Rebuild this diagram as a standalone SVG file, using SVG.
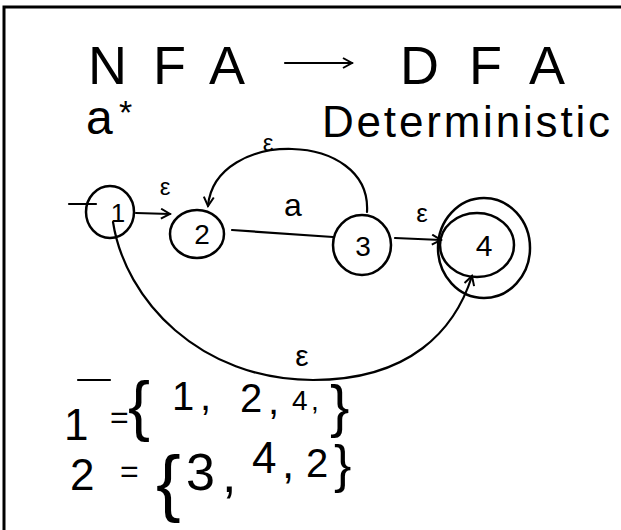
<svg xmlns="http://www.w3.org/2000/svg" width="621" height="530" viewBox="0 0 621 530">
<defs>
<style>
.t{font-family:"Liberation Sans","DejaVu Sans",sans-serif;fill:#000}
.n{fill:none;stroke:#000;stroke-width:2.5}
.e{fill:none;stroke:#000;stroke-width:2.2;stroke-linecap:round}
</style>
<marker id="ah" viewBox="0 0 12 12" refX="10" refY="6" markerWidth="12" markerHeight="12" markerUnits="userSpaceOnUse" orient="auto">
<polyline points="1,1 10,6 1,11" fill="none" stroke="#000" stroke-width="2"/>
</marker>
</defs>
<rect width="621" height="530" fill="#fff"/>
<path d="M4 530 V7 H621" fill="none" stroke="#000" stroke-width="3"/>
<g id="title">
<text class="t" x="88" y="84" font-size="54" textLength="157" lengthAdjust="spacing">NFA</text>
<line x1="285" y1="63" x2="352" y2="63" class="e" marker-end="url(#ah)"/>
<text class="t" x="400" y="84" font-size="54" textLength="165" lengthAdjust="spacing">DFA</text>
<text class="t" x="86" y="134" font-size="48">a</text>
<text class="t" x="119" y="124" font-size="34">*</text>
<text class="t" x="322" y="137" font-size="44" textLength="288" lengthAdjust="spacing">Deterministic</text>
</g>
<g id="edges">
<line class="e" x1="69" y1="204" x2="96" y2="204"/>
<line class="e" x1="136" y1="213" x2="170" y2="214" marker-end="url(#ah)"/>
<text class="t" x="165" y="195" font-size="24" text-anchor="middle">ε</text>
<line class="e" x1="232" y1="230" x2="333" y2="237"/>
<text class="t" x="293" y="216" font-size="32" text-anchor="middle">a</text>
<path class="e" d="M367 212 C372 130, 215 128, 208 206" marker-end="url(#ah)"/>
<text class="t" x="268" y="151" font-size="24" text-anchor="middle">ε</text>
<line class="e" x1="395" y1="238" x2="441" y2="240" marker-end="url(#ah)"/>
<text class="t" x="422" y="222" font-size="26" text-anchor="middle">ε</text>
<path class="e" d="M113 222 C125 300, 200 380, 313 380 C410 380, 455 330, 472 276" marker-end="url(#ah)"/>
<text class="t" x="302" y="366" font-size="30" text-anchor="middle">ε</text>
</g>
<g id="node1">
<ellipse class="n" cx="110" cy="212" rx="24" ry="26"/>
<text class="t" x="118" y="222" font-size="26" text-anchor="middle">1</text>
</g>
<g id="node2">
<ellipse class="n" cx="197" cy="234" rx="27" ry="24"/>
<text class="t" x="202" y="244" font-size="28" text-anchor="middle">2</text>
</g>
<g id="node3">
<ellipse class="n" cx="362" cy="245" rx="29" ry="30"/>
<text class="t" x="363" y="256" font-size="28" text-anchor="middle">3</text>
</g>
<g id="node4">
<ellipse class="n" cx="477" cy="245" rx="37" ry="32"/>
<ellipse class="n" cx="484" cy="248" rx="46" ry="50"/>
<text class="t" x="484" y="256" font-size="30" text-anchor="middle">4</text>
</g>
<g id="sets">
<line class="e" x1="78" y1="380" x2="110" y2="380"/>
<text class="t" font-size="44"><tspan x="64" y="440">1</tspan></text>
<text class="t" font-size="32"><tspan x="110" y="428">=</tspan></text>
<text class="t" font-size="66"><tspan x="128" y="428">{</tspan></text>
<text class="t" font-size="40"><tspan x="172" y="410">1</tspan><tspan x="200" y="410">,</tspan></text>
<text class="t" font-size="40"><tspan x="240" y="412">2</tspan><tspan x="268" y="414">,</tspan></text>
<text class="t" font-size="28"><tspan x="292" y="410">4</tspan><tspan x="311" y="410">,</tspan></text>
<text class="t" font-size="58"><tspan x="330" y="426">}</tspan></text>
<text class="t" font-size="44"><tspan x="70" y="490">2</tspan></text>
<text class="t" font-size="32"><tspan x="120" y="482">=</tspan></text>
<text class="t" font-size="74"><tspan x="156" y="508">{</tspan></text>
<text class="t" font-size="52"><tspan x="186" y="490">3</tspan><tspan x="222" y="492">,</tspan></text>
<text class="t" font-size="44"><tspan x="252" y="473">4</tspan><tspan x="282" y="478">,</tspan></text>
<text class="t" font-size="40"><tspan x="306" y="477">2</tspan></text>
<text class="t" font-size="52"><tspan x="334" y="482">}</tspan></text>
</g>
</svg>
